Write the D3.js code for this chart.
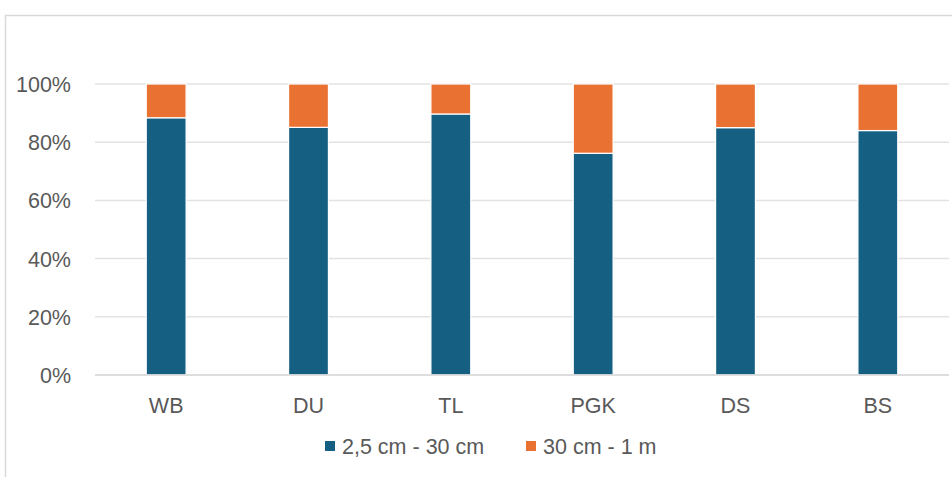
<!DOCTYPE html>
<html>
<head>
<meta charset="utf-8">
<script src="https://cdn.jsdelivr.net/npm/d3@7"></script>
<style>
  html, body { margin: 0; padding: 0; background: #fff; }
  svg { display: block; }
  text { font-family: "Liberation Sans", Arial, sans-serif; fill: #595959; }
</style>
</head>
<body>
<svg id="chart" width="952" height="477"></svg>
<script>
// Sites and the share of each size class (fractions of the total)
const categories = ["WB", "DU", "TL", "PGK", "DS", "BS"];
const seriesNames = ["2,5 cm - 30 cm", "30 cm - 1 m"];
const smallShare = [0.884, 0.851, 0.897, 0.762, 0.850, 0.840];
const largeShare = [0.116, 0.149, 0.103, 0.238, 0.150, 0.160];
const yTicks = [0, 0.2, 0.4, 0.6, 0.8, 1.0];
const colors = ["#156082", "#E97132"];

const svg = d3.select("#chart");
const W = 952, H = 477;
const margin = { left: 95, right: 3, top: 84, bottom: 102 };
const fontSize = "21.5px";

// Chart area frame
svg.append("rect")
  .attr("x", 5.5).attr("y", 15.5)
  .attr("width", W + 20).attr("height", H + 20)
  .attr("fill", "#fff").attr("stroke", "#d9d9d9").attr("stroke-width", 1.5);

const x = d3.scaleBand()
  .domain(categories)
  .range([margin.left, W - margin.right])
  .paddingInner(0.72).paddingOuter(0.36);

const y = d3.scaleLinear()
  .domain([0, 1])
  .range([H - margin.bottom, margin.top]);

// Horizontal gridlines
svg.append("g")
  .selectAll("line")
  .data(yTicks)
  .join("line")
  .attr("x1", margin.left).attr("x2", W - margin.right)
  .attr("y1", d => y(d)).attr("y2", d => y(d))
  .attr("stroke", "#e3e3e3").attr("stroke-width", 1.5);

// Y axis labels
const yAxis = d3.axisLeft(y).tickValues(yTicks).tickFormat(d3.format(".0%")).tickSize(0).tickPadding(24);
const gy = svg.append("g").attr("transform", `translate(${margin.left},0)`).call(yAxis);
gy.select(".domain").remove();
gy.selectAll("text").style("font-size", fontSize).style("font-family", null).attr("fill", "#595959").attr("dy", "0.35em");

// Stacked bars
const rows = categories.map((c, i) => ({ cat: c, s0: smallShare[i], s1: largeShare[i] }));
const stack = d3.stack().keys(["s0", "s1"])(rows);

svg.append("g")
  .selectAll("g")
  .data(stack)
  .join("g")
  .attr("fill", (d, i) => colors[i])
  .selectAll("rect")
  .data(d => d)
  .join("rect")
  .attr("x", d => x(d.data.cat))
  .attr("width", x.bandwidth())
  .attr("y", d => y(d[1]))
  .attr("height", d => y(d[0]) - y(d[1]))
  .attr("stroke", "#fff").attr("stroke-width", 1.2);

// Baseline axis
svg.append("line")
  .attr("x1", margin.left).attr("x2", W - margin.right)
  .attr("y1", y(0)).attr("y2", y(0))
  .attr("stroke", "#d9d9d9").attr("stroke-width", 1.5);

// Category labels
const xAxis = d3.axisBottom(x).tickSize(0).tickPadding(23);
const gx = svg.append("g").attr("transform", `translate(0,${y(0)})`).call(xAxis);
gx.select(".domain").remove();
gx.selectAll("text").style("font-size", fontSize).attr("fill", "#595959");

// Legend
const legend = svg.append("g").attr("transform", "translate(0,446)");
const legendX = [325, 526];
seriesNames.forEach((name, i) => {
  const g = legend.append("g").attr("transform", `translate(${legendX[i]},0)`);
  g.append("rect").attr("x", 0).attr("y", -5).attr("width", 10).attr("height", 10).attr("fill", colors[i]);
  g.append("text").attr("x", 17).attr("dy", "0.35em").style("font-size", fontSize).text(name);
});
</script>
</body>
</html>
